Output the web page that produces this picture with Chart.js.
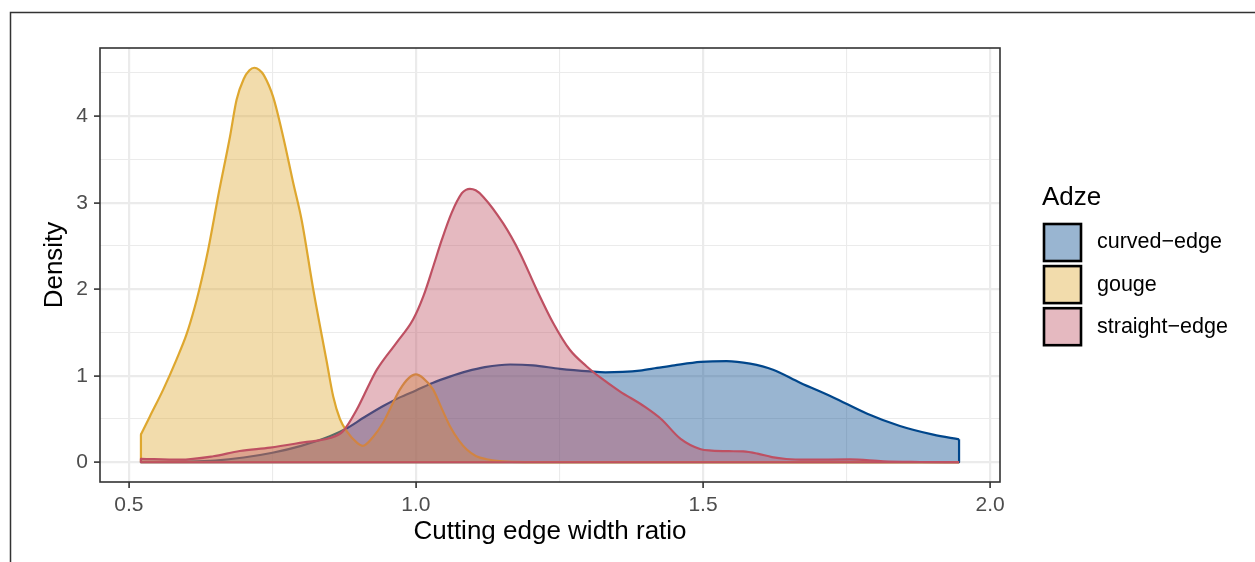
<!DOCTYPE html>
<html><head><meta charset="utf-8">
<script src="https://cdn.jsdelivr.net/npm/chart.js@4.4.1/dist/chart.umd.min.js"></script>
<style>html,body{margin:0;padding:0;background:#fff;} canvas{display:block;}</style>
</head><body>
<canvas id="c" width="1255" height="562"></canvas>
<script>
// ---- data ----
const seriesNames = ['curved\u2212edge', 'gouge', 'straight\u2212edge'];

const curvedX = [0.521, 0.6, 0.65, 0.7, 0.75, 0.8, 0.85, 0.879, 0.91, 0.943, 0.972, 1.0, 1.03, 1.059, 1.088, 1.12, 1.164, 1.204, 1.251, 1.303, 1.33, 1.36, 1.39, 1.42, 1.45, 1.496, 1.541, 1.582, 1.622, 1.669, 1.727, 1.785, 1.843, 1.901, 1.946];
const curvedY = [0.004, 0.008, 0.02, 0.055, 0.11, 0.19, 0.30, 0.39, 0.52, 0.65, 0.75, 0.83, 0.92, 0.99, 1.05, 1.10, 1.13, 1.12, 1.08, 1.05, 1.04, 1.045, 1.06, 1.09, 1.12, 1.16, 1.17, 1.14, 1.07, 0.92, 0.75, 0.565, 0.42, 0.32, 0.265];

const gougeX = [0.521, 0.5366, 0.5598, 0.5831, 0.6005, 0.615, 0.6267, 0.6382, 0.6568, 0.676, 0.6876, 0.70, 0.71, 0.7185, 0.727, 0.735, 0.7514, 0.7688, 0.7862, 0.8009, 0.8211, 0.8444, 0.8559, 0.8676, 0.8793, 0.8967, 0.9077, 0.925, 0.943, 0.958, 0.972, 0.987, 1.0, 1.013, 1.03, 1.045, 1.059, 1.075, 1.088, 1.105, 1.123, 1.15, 1.2, 1.3, 1.5, 1.7, 1.946];
const gougeY = [0.32, 0.53, 0.84, 1.19, 1.48, 1.80, 2.11, 2.46, 3.12, 3.76, 4.19, 4.43, 4.53, 4.56, 4.535, 4.475, 4.22, 3.76, 3.23, 2.80, 2.0, 1.17, 0.76, 0.50, 0.36, 0.23, 0.19, 0.29, 0.46, 0.66, 0.84, 0.97, 1.015, 0.97, 0.84, 0.62, 0.42, 0.25, 0.15, 0.07, 0.035, 0.01, 0.002, 0, 0, 0, 0];

const straightX = [0.521, 0.589, 0.647, 0.693, 0.746, 0.804, 0.85, 0.873, 0.897, 0.92, 0.932, 0.966, 0.995, 1.013, 1.03, 1.045, 1.062, 1.08, 1.087, 1.094, 1.104, 1.117, 1.152, 1.181, 1.21, 1.239, 1.268, 1.297, 1.321, 1.355, 1.399, 1.427, 1.461, 1.496, 1.515, 1.545, 1.57, 1.595, 1.62, 1.645, 1.68, 1.756, 1.814, 1.878, 1.946];
const straightY = [0.04, 0.03, 0.07, 0.13, 0.17, 0.23, 0.28, 0.36, 0.61, 0.92, 1.07, 1.38, 1.65, 1.92, 2.26, 2.57, 2.88, 3.11, 3.148, 3.16, 3.143, 3.07, 2.76, 2.42, 2.00, 1.61, 1.30, 1.11, 0.98, 0.82, 0.64, 0.50, 0.27, 0.15, 0.135, 0.128, 0.125, 0.10, 0.06, 0.038, 0.03, 0.033, 0.01, 0.003, 0];

const xTicks = [0.5, 0.75, 1.0, 1.25, 1.5, 1.75, 2.0];
const xMajor = [0.5, 1.0, 1.5, 2.0];
const yTicks = [0, 0.5, 1, 1.5, 2, 2.5, 3, 3.5, 4, 4.5];
const yMajor = [0, 1, 2, 3, 4];
const xLimits = [0.4497, 2.0173];
const yLimits = [-0.228, 4.788];

// ---- styles ----
const lineColors = ['#00468B', '#DEA72F', '#BE5062'];
const fillColors = ['rgba(0,70,139,0.4)', 'rgba(222,167,47,0.4)', 'rgba(190,80,98,0.4)'];
const FONT = '"Liberation Sans", Arial, Helvetica, sans-serif';
Chart.defaults.font.family = FONT;

function pts(xs, ys) { return xs.map((x, i) => ({x: x, y: ys[i]})); }
function closure(xs, ys) {
  const n = xs.length - 1;
  return [{x: xs[0], y: ys[0]}, {x: xs[0], y: 0}, {x: xs[n], y: 0}, {x: xs[n], y: ys[n]}];
}

const allX = [curvedX, gougeX, straightX];
const allY = [curvedY, gougeY, straightY];
const datasets = [];
for (let i = 0; i < 3; i++) {
  datasets.push({
    label: seriesNames[i], data: pts(allX[i], allY[i]),
    borderColor: lineColors[i], backgroundColor: fillColors[i], fill: 'origin',
    borderWidth: 2.2, pointRadius: 0, cubicInterpolationMode: 'monotone',
    borderJoinStyle: 'round', order: 10 - 2 * i
  });
  datasets.push({
    label: seriesNames[i] + ' outline', data: closure(allX[i], allY[i]),
    borderColor: lineColors[i], fill: false, borderWidth: 2.2, pointRadius: 0,
    tension: 0, borderJoinStyle: 'round', order: 9 - 2 * i
  });
}

const isMajor = (arr, v) => arr.some(m => Math.abs(m - v) < 1e-9);

const decor = {
  id: 'decor',
  beforeDraw(chart) {
    const c = chart.ctx;
    c.save();
    c.fillStyle = '#fff';
    c.fillRect(0, 0, chart.width, chart.height);
    c.strokeStyle = '#333';
    c.lineWidth = 1.5;
    c.strokeRect(10.5, 12.5, chart.width + 40, chart.height + 40);
    c.restore();
  },
  afterDraw(chart) {
    const c = chart.ctx, a = chart.chartArea;
    c.save();
    c.strokeStyle = '#333';
    c.lineWidth = 1.6;
    c.strokeRect(a.left, a.top, a.right - a.left, a.bottom - a.top);
    // legend
    c.fillStyle = '#000';
    c.font = '26px ' + FONT;
    c.textBaseline = 'alphabetic';
    c.textAlign = 'left';
    c.fillText('Adze', 1042, 205);
    for (let i = 0; i < 3; i++) {
      const y0 = 224 + i * 42.1;
      c.fillStyle = '#fff';
      c.fillRect(1044, y0, 37, 37);
      c.fillStyle = fillColors[i];
      c.fillRect(1044, y0, 37, 37);
      c.strokeStyle = '#000';
      c.lineWidth = 2.6;
      c.strokeRect(1044, y0, 37, 37);
      c.fillStyle = '#000';
      c.font = '21.5px ' + FONT;
      c.textBaseline = 'middle';
      c.fillText(seriesNames[i], 1097, y0 + 18.5);
    }
    c.restore();
  }
};

new Chart(document.getElementById('c'), {
  type: 'line',
  data: {datasets: datasets},
  plugins: [decor],
  options: {
    responsive: false, animation: false, devicePixelRatio: 1,
    layout: {padding: {left: 0, top: 48, right: 255, bottom: 0}},
    plugins: {legend: {display: false}, tooltip: {enabled: false}},
    scales: {
      x: {
        type: 'linear', min: xLimits[0], max: xLimits[1],
        afterBuildTicks: s => { s.ticks = xTicks.map(v => ({value: v})); },
        afterFit: s => { s.height = 80; },
        ticks: {
          autoSkip: false, maxRotation: 0, minRotation: 0, color: '#4d4d4d',
          font: {size: 21}, padding: 5,
          callback: v => isMajor(xMajor, v) ? v.toFixed(1) : ''
        },
        grid: {
          color: '#ebebeb',
          lineWidth: ctx => isMajor(xMajor, ctx.tick.value) ? 2.2 : 1.1,
          tickLength: 6,
          tickColor: ctx => isMajor(xMajor, ctx.tick.value) ? '#333' : 'rgba(0,0,0,0)',
          tickWidth: 1.6
        },
        border: {display: false},
        title: {display: true, text: 'Cutting edge width ratio', color: '#000',
          font: {size: 26, lineHeight: 1.2}, padding: {top: 0, bottom: 15}}
      },
      y: {
        type: 'linear', min: yLimits[0], max: yLimits[1],
        afterBuildTicks: s => { s.ticks = yTicks.map(v => ({value: v})); },
        afterFit: s => { s.width = 100; },
        ticks: {
          autoSkip: false, color: '#4d4d4d', font: {size: 21}, padding: 6,
          callback: v => isMajor(yMajor, v) ? String(v) : ''
        },
        grid: {
          color: '#ebebeb',
          lineWidth: ctx => isMajor(yMajor, ctx.tick.value) ? 2.2 : 1.1,
          tickLength: 6,
          tickColor: ctx => isMajor(yMajor, ctx.tick.value) ? '#333' : 'rgba(0,0,0,0)',
          tickWidth: 1.6
        },
        border: {display: false},
        title: {display: true, text: 'Density', color: '#000',
          font: {size: 26, lineHeight: 1.2}, padding: {top: 39, bottom: 0}}
      }
    }
  }
});
</script>
</body></html>
